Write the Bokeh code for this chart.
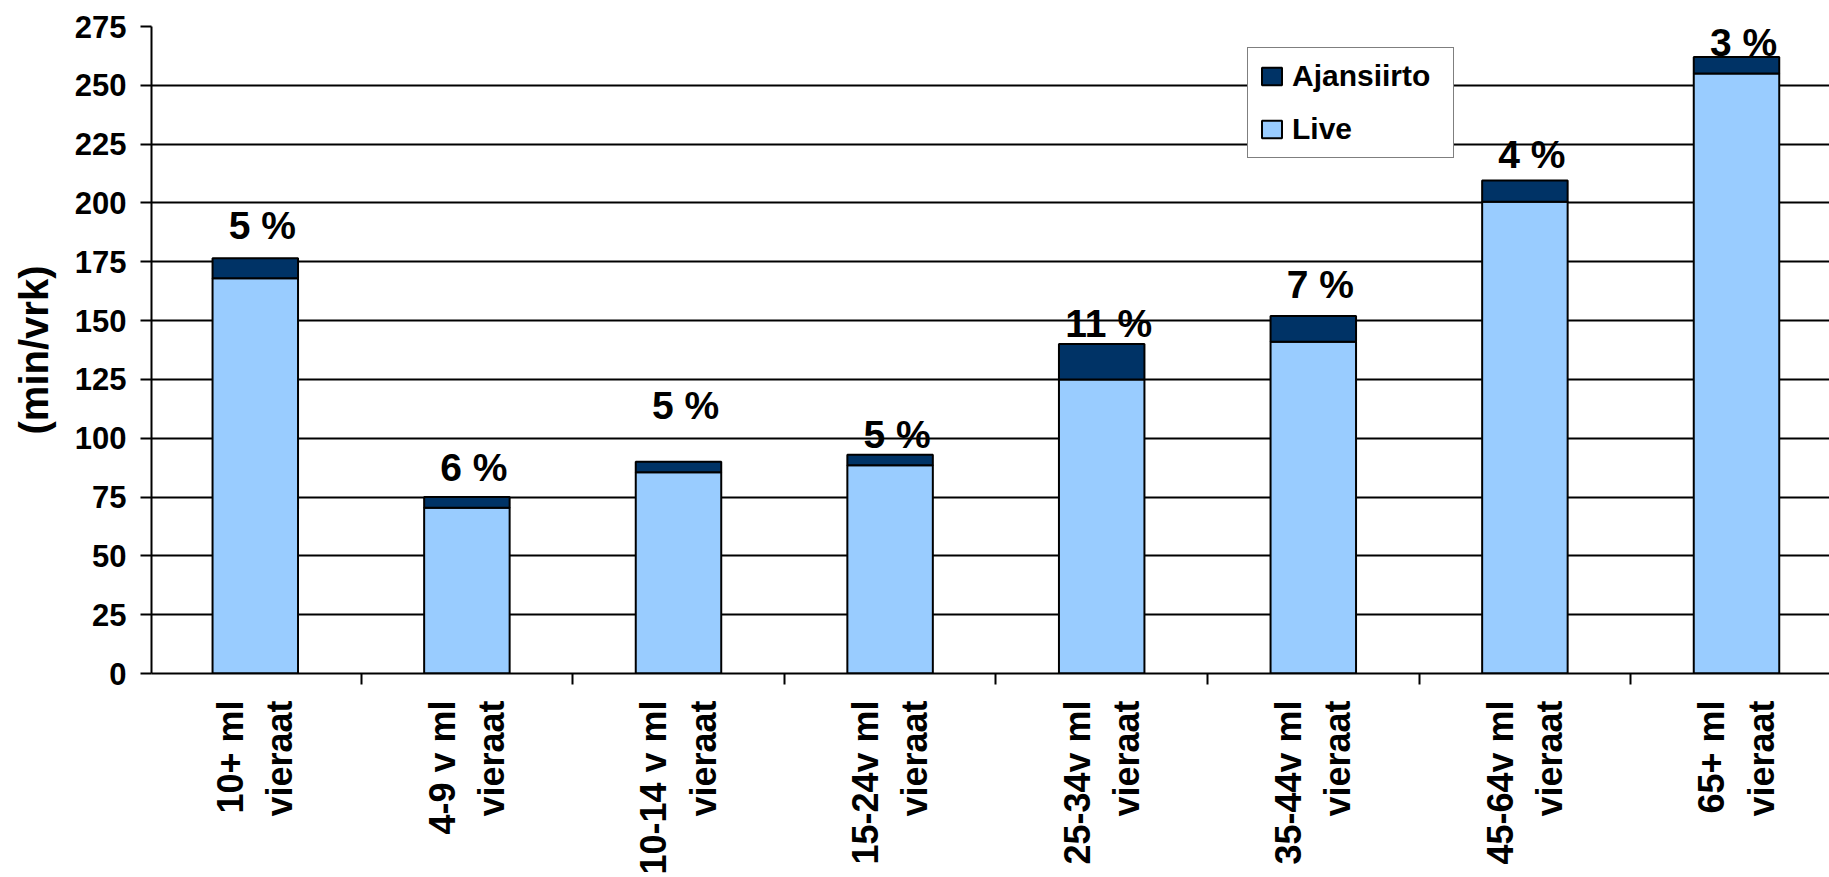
import math
from bokeh.plotting import figure
from bokeh.models import (ColumnDataSource, Range1d, FixedTicker, LabelSet,
                          Legend, LegendItem)
from bokeh.core.properties import value
from bokeh.embed import file_html
from bokeh.resources import INLINE

# ---- data ----
categories = ["10+ ml\nvieraat", "4-9 v ml\nvieraat", "10-14 v ml\nvieraat",
              "15-24v ml\nvieraat", "25-34v ml\nvieraat", "35-44v ml\nvieraat",
              "45-64v ml\nvieraat", "65+ ml\nvieraat"]
live = [168, 70.5, 85.5, 88.5, 125, 141, 200.5, 255]
ajansiirto = [8.5, 4.5, 4.5, 4.5, 15, 11, 9, 7]
pct_labels = ["5 %", "6 %", "5 %", "5 %", "11 %", "7 %", "4 %", "3 %"]
pct_label_y = [190.5, 87.6, 113.9, 101.5, 148.7, 165.5, 220.6, 268]
y_ticks = [0, 25, 50, 75, 100, 125, 150, 175, 200, 225, 250, 275]

FONT = "Liberation Sans"
LIVE_COLOR = "#99CCFF"
AJ_COLOR = "#003366"

n = len(categories)
xs = list(range(n))
total = [a + b for a, b in zip(live, ajansiirto)]

src = ColumnDataSource(dict(x=xs, live=live, aj=ajansiirto, total=total))
lab_src = ColumnDataSource(dict(x=xs, y=pct_label_y, text=pct_labels))

p = figure(width=1829, height=877,
           x_range=Range1d(-0.4905, 7.4395), y_range=Range1d(0, 275),
           output_backend="svg", toolbar_location=None,
           min_border_left=151, min_border_right=0,
           min_border_top=26, min_border_bottom=204)
p.outline_line_color = None
p.background_fill_color = "white"
p.border_fill_color = "white"

# grid
p.xgrid.grid_line_color = None
p.ygrid.grid_line_color = "black"
p.ygrid.grid_line_width = 2
p.ygrid.ticker = FixedTicker(ticks=y_ticks)

# y axis
p.yaxis.ticker = FixedTicker(ticks=y_ticks)
p.yaxis.axis_line_color = "black"
p.yaxis.axis_line_width = 2
p.yaxis.major_tick_out = 11
p.yaxis.major_tick_in = 0
p.yaxis.major_tick_line_width = 2
p.yaxis.major_tick_line_color = "black"
p.yaxis.minor_tick_line_color = None
p.yaxis.major_label_standoff = 14
p.yaxis.major_label_text_font = FONT
p.yaxis.major_label_text_font_style = "bold"
p.yaxis.major_label_text_font_size = "31px"
p.yaxis.major_label_text_color = "black"
p.yaxis.axis_label = "(min/vrk)"
p.yaxis.axis_label_text_font = FONT
p.yaxis.axis_label_text_font_style = "bold"
p.yaxis.axis_label_text_font_size = "40px"
p.yaxis.axis_label_text_color = "black"
p.yaxis.axis_label_standoff = 16

# x axis: category labels at bar centres, tick marks at category boundaries
p.xaxis.ticker = FixedTicker(ticks=xs, minor_ticks=[i + 0.5 for i in range(n - 1)])
p.xaxis.major_label_overrides = {i: c for i, c in zip(xs, categories)}
p.xaxis.major_label_orientation = math.pi / 2
p.xaxis.axis_line_color = "black"
p.xaxis.axis_line_width = 2
p.xaxis.major_tick_out = 0
p.xaxis.major_tick_in = 0
p.xaxis.major_tick_line_color = None
p.xaxis.minor_tick_out = 11
p.xaxis.minor_tick_in = 0
p.xaxis.minor_tick_line_width = 2
p.xaxis.minor_tick_line_color = "black"
p.xaxis.major_label_standoff = 16
p.xaxis.major_label_text_font = FONT
p.xaxis.major_label_text_font_style = "bold"
p.xaxis.major_label_text_font_size = "36px"
p.xaxis.major_label_text_color = "black"

BW = 0.404
r_live = p.vbar(x="x", width=BW, bottom=0, top="live", source=src,
                fill_color=LIVE_COLOR, line_color="black", line_width=2)
r_aj = p.vbar(x="x", width=BW, bottom="live", top="total", source=src,
              fill_color=AJ_COLOR, line_color="black", line_width=2)

# percentage labels
p.add_layout(LabelSet(x="x", y="y", text="text", source=lab_src,
                      x_offset=7, text_align="center", text_baseline="middle",
                      text_font=value(FONT), text_font_style="bold",
                      text_font_size="39px", text_color="black"))

legend = Legend(items=[LegendItem(label="Ajansiirto", renderers=[r_aj]),
                       LegendItem(label="Live", renderers=[r_live])],
                location=(1096, 515), orientation="vertical",
                margin=0, padding=11, spacing=19,
                glyph_width=25, glyph_height=22, label_standoff=8,
                label_width=150, label_height=34,
                label_text_font=FONT, label_text_font_style="bold",
                label_text_font_size="30px", label_text_color="black",
                border_line_color="black", border_line_width=1.5,
                background_fill_color="white", background_fill_alpha=1.0)
p.add_layout(legend)

open("out.html", "w").write(file_html(p, INLINE))
